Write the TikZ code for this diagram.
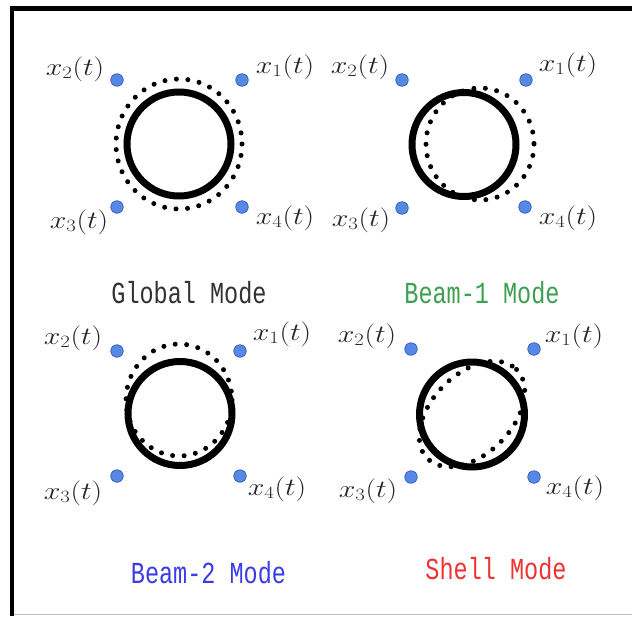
\documentclass[tikz,border=0pt]{standalone}
\usepackage{fontspec}
\newfontfamily\modefont{Liberation Mono}
\definecolor{sensorblue}{RGB}{88,136,230}
\definecolor{sensoredge}{RGB}{50,90,185}
\definecolor{globalc}{RGB}{50,50,50}
\definecolor{beamonec}{RGB}{60,160,80}
\definecolor{beamtwoc}{RGB}{60,60,230}
\definecolor{shellc}{RGB}{240,50,50}
\newcommand{\sig}[1]{\scalebox{1.2}[1]{$x_{#1}(t)$}}
\begin{document}
\begin{tikzpicture}[x=1pt,y=-1pt,
  sensor/.style={circle, fill=sensorblue, draw=sensoredge, line width=0.7pt, inner sep=0pt, minimum size=12.5pt},
  lbl/.style={font=\fontsize{23}{26}\selectfont, inner sep=0pt, text=black!85},
  solidring/.style={line width=7pt, draw=black},
  dotring/.style={line width=5pt, line cap=round, dash pattern=on 0pt off 11.5pt, draw=black},
  modelbl/.style={font=\modefont\fontsize{23.5}{26}\selectfont, inner sep=0pt}]
\useasboundingbox (0,0) rectangle (632,616);
\fill[white] (0,0) rectangle (632,616);
% frame
\draw[line width=5pt] (9.5,8.5) -- (632,8.5);
\draw[line width=4.5pt] (12,6) -- (12,616);
\draw[black!25, line width=1pt] (14,614) -- (632,614);

% ---------- Global mode ----------
\draw[dotring] (179,144) ellipse [x radius=63, y radius=65];
\draw[solidring] (179,144) circle [radius=52];
\node[sensor] (g2) at (117,80) {};
\node[sensor] (g1) at (242,80) {};
\node[sensor] (g3) at (117,207) {};
\node[sensor] (g4) at (242,207) {};
\node[lbl] (g2l) at (75,69) {\sig{2}};
\node[lbl] (g1l) at (285,67) {\sig{1}};
\node[lbl] (g3l) at (79,222) {\sig{3}};
\node[lbl] (g4l) at (285,218) {\sig{4}};
\node[modelbl, text=globalc] (gm) at (189,293) {\scalebox{1}[1.3]{Global Mode}};

% ---------- Beam-1 mode ----------
\draw[dotring] (480,144) ellipse [x radius=54, y radius=56];
\draw[solidring] (464,144.5) circle [radius=52];
\node[sensor] (a2) at (402,80) {};
\node[sensor] (a1) at (526,80) {};
\node[sensor] (a3) at (402,208) {};
\node[sensor] (a4) at (525,207) {};
\node[lbl] (a2l) at (360,67) {\sig{2}};
\node[lbl] (a1l) at (568,65) {\sig{1}};
\node[lbl] (a3l) at (361,220) {\sig{3}};
\node[lbl] (a4l) at (568,218) {\sig{4}};
\node[modelbl, text=beamonec] (am) at (482,293) {\scalebox{1}[1.3]{Beam-1 Mode}};

% ---------- Beam-2 mode ----------
\draw[dotring] (179,400) ellipse [x radius=53, y radius=56];
\draw[solidring] (180,413.5) circle [radius=52];
\node[sensor] (b2) at (117,351) {};
\node[sensor] (b1) at (240,351) {};
\node[sensor] (b3) at (117,476) {};
\node[sensor] (b4) at (240,476) {};
\node[lbl] (b2l) at (73,338) {\sig{2}};
\node[lbl] (b1l) at (282,334) {\sig{1}};
\node[lbl] (b3l) at (73,493) {\sig{3}};
\node[lbl] (b4l) at (277,489) {\sig{4}};
\node[modelbl, text=beamtwoc] (bm) at (208.5,573) {\scalebox{1}[1.3]{Beam-2 Mode}};

% ---------- Shell mode ----------
\draw[dotring, rotate around={45:(472,414)}] (472,414) ellipse [x radius=63, y radius=40];
\draw[solidring] (472,414.5) circle [radius=52.5];
\node[sensor] (s2) at (411,349) {};
\node[sensor] (s1) at (534,349) {};
\node[sensor] (s3) at (411,477) {};
\node[sensor] (s4) at (534,477) {};
\node[lbl] (s2l) at (367,336) {\sig{2}};
\node[lbl] (s1l) at (574,336) {\sig{1}};
\node[lbl] (s3l) at (368,491) {\sig{3}};
\node[lbl] (s4l) at (575,488) {\sig{4}};
\node[modelbl, text=shellc] (sm) at (496,569) {\scalebox{1}[1.3]{Shell Mode}};
\end{tikzpicture}
\end{document}
